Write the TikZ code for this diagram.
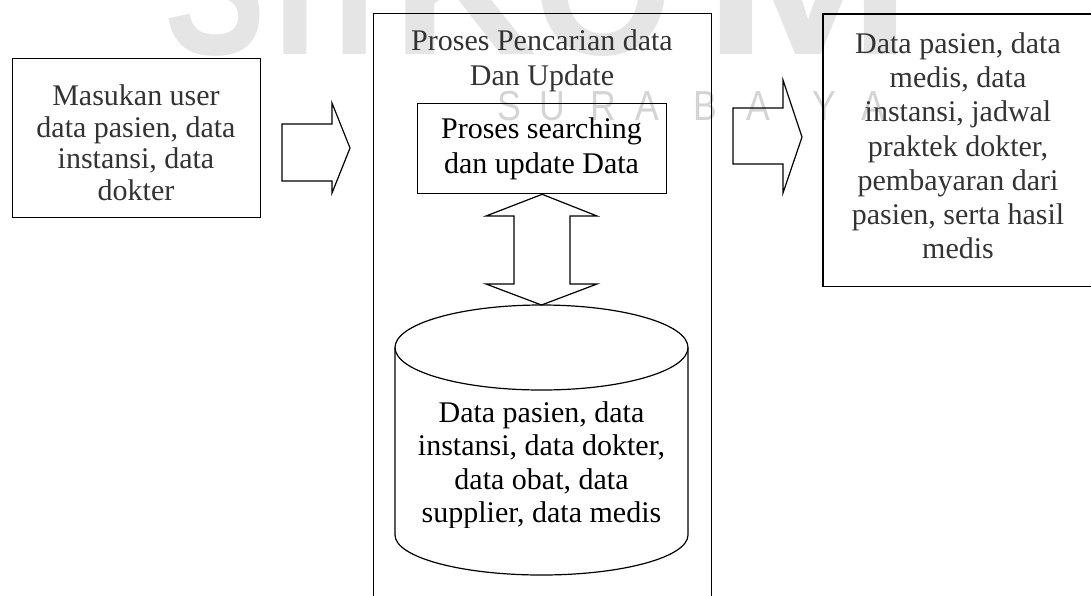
\documentclass[tikz,border=0pt]{standalone}
\usepackage{fontspec}
\setmainfont{Liberation Serif}
\newfontfamily\wmfont{Liberation Sans}
\begin{document}
\begin{tikzpicture}[x=1pt,y=-1pt,
  box/.style={draw, line width=1.3pt, inner sep=0pt, anchor=north west},
  outline/.style={draw, line width=1.2pt, line join=miter},
  txt/.style={align=center, inner sep=0pt, anchor=north, font=\fontsize{30}{#1}\selectfont},
  wmbig/.style={inner sep=0pt, anchor=base, text=black!10, font=\wmfont\bfseries\fontsize{200}{200}\selectfont},
  wmsmall/.style={inner sep=0pt, anchor=base, text=black!17, font=\wmfont\fontsize{42}{42}\selectfont}]
\useasboundingbox (0,0) rectangle (1091,595);
\clip (0,0) rectangle (1091,595);
% watermark
\node[wmbig] (wS) at (215,54) {\scalebox{0.76}[1]{S}};
\node[wmbig] (wT) at (295,54) {\scalebox{0.8}[1]{T}};
\node[wmbig] (wI) at (355,54) {\scalebox{0.8}[1]{I}};
\node[wmbig] (wK) at (465,54) {\scalebox{1.0}[1]{K}};
\node[wmbig] (wO) at (603,54) {\scalebox{0.9}[1]{O}};
\node[wmbig] (wM) at (808,54) {\scalebox{1.26}[1]{M}};
\node[wmsmall] (s1) at (509,120) {\scalebox{0.85}[1]{S}};
\node[wmsmall] (s2) at (552,120) {\scalebox{0.85}[1]{U}};
\node[wmsmall] (s3) at (603,120) {\scalebox{0.85}[1]{R}};
\node[wmsmall] (s4) at (647,120) {\scalebox{0.85}[1]{A}};
\node[wmsmall] (s5) at (705,120) {\scalebox{0.85}[1]{B}};
\node[wmsmall] (s6) at (758,120) {\scalebox{0.85}[1]{A}};
\node[wmsmall] (s7) at (824,120) {\scalebox{0.85}[1]{Y}};
\node[wmsmall] (s8) at (873,120) {\scalebox{0.85}[1]{A}};
% left input box
\node[box, minimum width=248pt, minimum height=159pt] (input) at (12,58) {};
\node[txt=31.5, text=black!80] (inputtxt) at (136,84.5) {Masukan user\\data pasien, data\\instansi, data\\dokter};
% process box
\node[box, minimum width=338pt, minimum height=590pt] (process) at (373,13) {};
\node[txt=35, text=black!80] (proctitle) at (542,29.5) {Proses Pencarian data\\Dan Update};
\node[box, minimum width=249pt, minimum height=90pt] (search) at (417,103) {};
\node[txt=35] (searchtxt) at (541.5,117.5) {Proses searching\\dan update Data};
% database cylinder
\coordinate (dbc) at (541.5,347.5);
\coordinate (dbtop) at (541.5,305);
\draw[outline] (395,347.5) -- (395,535) arc[start angle=180, end angle=360, x radius=146.5pt, y radius=40pt] -- (688,347.5);
\draw[outline] (dbc) ellipse [x radius=146.5pt, y radius=42.5pt];
\begin{scope}
\clip (380,380) rectangle (700,527);
\node[txt=33.3] (db) at (541.5,401.5) {Data pasien, data\\instansi, data dokter,\\data obat, data\\supplier, data medis};
\end{scope}
% double arrow between search box and database
\draw[outline] (search.south) -- (597,216) -- (570,216) -- (570,284) -- (597,284) -- (dbtop)
  -- (486,284) -- (514,284) -- (514,216) -- (486,216) -- cycle;
% right output box (its right side lies beyond the picture's edge)
\node[inner sep=0pt, anchor=north west, minimum width=300pt, minimum height=272pt] (output) at (823,14) {};
\draw[line width=1.3pt] (output.north east) -- (output.north west) -- (output.south west) -- (output.south east);
\node[txt=34.2, text=black!80] (outputtxt) at (958,32.5) {Data pasien, data\\medis, data\\instansi, jadwal\\praktek dokter,\\pembayaran dari\\pasien, serta hasil\\medis};
% block arrows
\coordinate (a1tip) at (350,148);
\draw[outline] (282,124) -- (332,124) -- (332,103) -- (a1tip) -- (332,193) -- (332,181) -- (282,181) -- cycle;
\coordinate (a2tip) at (802,137);
\draw[outline] (733,108) -- (783,108) -- (783,80) -- (a2tip) -- (783,193) -- (783,164) -- (733,164) -- cycle;
\end{tikzpicture}
\end{document}
